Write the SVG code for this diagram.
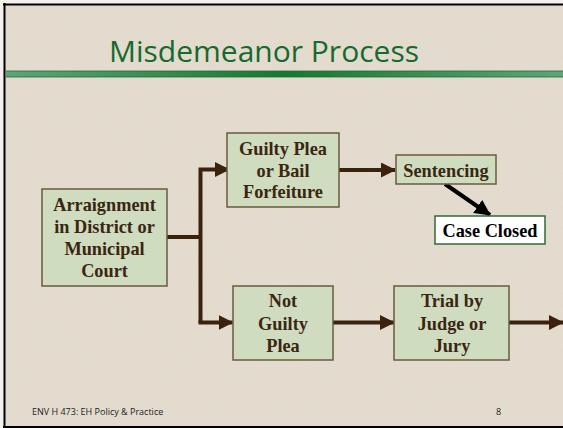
<svg xmlns="http://www.w3.org/2000/svg" width="563" height="428" viewBox="0 0 563 428">
<defs>
<style>
.box{fill:#cfdcbf;stroke:#6b5a3e;stroke-width:1.5}
.lbl{font-family:"Liberation Serif","Times New Roman",serif;font-weight:bold;font-size:18.3px;fill:#3b2612;text-anchor:middle}
.conn{stroke:#3b220c;stroke-width:4;fill:none}
.foot{font-family:"Open Sans","DejaVu Sans",sans-serif;font-size:9px;fill:#222}
</style>
<marker id="ah" viewBox="0 0 15 15" refX="14" refY="7.5" markerWidth="15" markerHeight="15" markerUnits="userSpaceOnUse" orient="auto">
<path d="M0,0 L15,7.5 L0,15 Z" fill="#3b220c"/>
</marker>
<marker id="ahk" viewBox="0 0 16 16" refX="15" refY="8" markerWidth="16" markerHeight="16" markerUnits="userSpaceOnUse" orient="auto">
<path d="M0,0 L16,8 L0,16 Z" fill="#000"/>
</marker>
<linearGradient id="bar" x1="0" y1="0" x2="1" y2="0">
<stop offset="0" stop-color="#5fa57a"/>
<stop offset="0.5" stop-color="#17782f"/>
<stop offset="1" stop-color="#5fa57a"/>
</linearGradient>
<filter id="tex" x="0" y="0" width="100%" height="100%">
<feTurbulence type="fractalNoise" baseFrequency="0.9" numOctaves="2" seed="3" result="n"/>
<feColorMatrix in="n" type="matrix" values="0 0 0 0 0.5  0 0 0 0 0.44  0 0 0 0 0.36  0 0 0 0.14 0"/>
</filter>
</defs>
<rect x="0" y="0" width="563" height="428" fill="#f4f1ec"/>
<rect x="4" y="4" width="559" height="423" fill="#e6ded1"/>
<rect x="4" y="4" width="559" height="423" filter="url(#tex)"/>
<line x1="3" y1="4.5" x2="563" y2="4.5" stroke="#000" stroke-width="2"/>
<line x1="4.5" y1="3" x2="4.5" y2="428" stroke="#000" stroke-width="2"/>
<line x1="3" y1="427" x2="563" y2="427" stroke="#000" stroke-width="2"/>
<rect x="6" y="71" width="557" height="6" fill="url(#bar)"/>
<line x1="6" y1="71" x2="563" y2="71" stroke="#1f6a35" stroke-width="0.8"/>
<line x1="6" y1="77" x2="563" y2="77" stroke="#1f6a35" stroke-width="0.8"/>
<text x="264" y="62" font-family="Open Sans, DejaVu Sans, sans-serif" font-size="30" fill="#17692e" text-anchor="middle">Misdemeanor Process</text>

<g id="connectors">
<polyline class="conn" points="167,237 200.5,237"/>
<polyline class="conn" points="200.5,322.5 200.5,169.5 229,169.5" marker-end="url(#ah)"/>
<polyline class="conn" points="198.5,322.5 232.5,322.5" marker-end="url(#ah)"/>
<line class="conn" x1="339" y1="170" x2="395" y2="170" marker-end="url(#ah)"/>
<line x1="445" y1="184" x2="490" y2="215" stroke="#000" stroke-width="4" marker-end="url(#ahk)"/>
<line class="conn" x1="333" y1="322.5" x2="394" y2="322.5" marker-end="url(#ah)"/>
<line class="conn" x1="509" y1="322.5" x2="563" y2="322.5" marker-end="url(#ah)"/>
</g>

<g id="arraignment">
<rect class="box" x="42" y="189" width="125" height="97"/>
<text class="lbl" x="104.5" y="210.5">Arraignment</text>
<text class="lbl" x="104.5" y="232.5">in District or</text>
<text class="lbl" x="104.5" y="255">Municipal</text>
<text class="lbl" x="104.5" y="277">Court</text>
</g>
<g id="guilty">
<rect class="box" x="227" y="133" width="112" height="74"/>
<text class="lbl" x="283" y="155">Guilty Plea</text>
<text class="lbl" x="283" y="176.5">or Bail</text>
<text class="lbl" x="283" y="198">Forfeiture</text>
</g>
<g id="sentencing">
<rect class="box" x="396" y="155" width="100" height="29"/>
<text class="lbl" x="446" y="176.5">Sentencing</text>
</g>
<g id="caseclosed">
<rect x="435" y="216" width="110" height="28" fill="#fff" stroke="#2f6b36" stroke-width="1.5"/>
<text class="lbl" x="490" y="237" style="fill:#000">Case Closed</text>
</g>
<g id="notguilty">
<rect class="box" x="233" y="286" width="100" height="74"/>
<text class="lbl" x="283" y="307">Not</text>
<text class="lbl" x="283" y="330">Guilty</text>
<text class="lbl" x="283" y="352">Plea</text>
</g>
<g id="trial">
<rect class="box" x="394" y="286" width="115" height="74"/>
<text class="lbl" x="452" y="307">Trial by</text>
<text class="lbl" x="452" y="330">Judge or</text>
<text class="lbl" x="452" y="352">Jury</text>
</g>
<text class="foot" x="32" y="415">ENV H 473: EH Policy &amp; Practice</text>
<text class="foot" x="496" y="415">8</text>
</svg>
